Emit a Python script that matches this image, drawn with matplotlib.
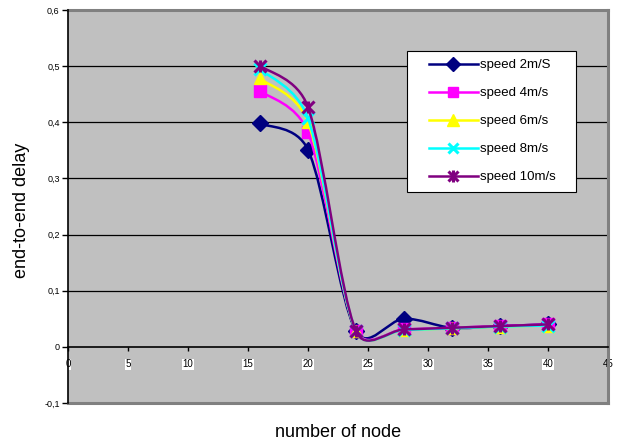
import numpy as np
import matplotlib
matplotlib.use("Agg")
import matplotlib.pyplot as plt
from matplotlib.path import Path
from matplotlib.patches import PathPatch, Rectangle
from matplotlib.lines import Line2D
from matplotlib.legend_handler import HandlerTuple

plt.rcParams['font.family'] = ['Liberation Sans', 'DejaVu Sans']

nodes = [16, 20, 24, 28, 32, 36, 40]
speed_2 = [0.398, 0.351, 0.028, 0.050, 0.034, 0.037, 0.040]
speed_4 = [0.456, 0.382, 0.029, 0.031, 0.034, 0.037, 0.040]
speed_6 = [0.478, 0.400, 0.028, 0.030, 0.033, 0.036, 0.038]
speed_8 = [0.495, 0.407, 0.028, 0.030, 0.033, 0.036, 0.038]
speed_10 = [0.501, 0.427, 0.028, 0.031, 0.034, 0.037, 0.040]

labels = ['speed 2m/S', 'speed 4m/s', 'speed 6m/s', 'speed 8m/s', 'speed 10m/s']
x_ticks = [0, 5, 10, 15, 20, 25, 30, 35, 40, 45]
y_ticks = [-0.1, 0, 0.1, 0.2, 0.3, 0.4, 0.5, 0.6]
y_tick_labels = ['-0,1', '0', '0,1', '0,2', '0,3', '0,4', '0,5', '0,6']

W, H = 621, 444
XLIM, YLIM = (0, 45), (-0.1, 0.6)
AX_W, AX_H = 540, 393  # plot area size in pixels


def smooth_path(xs, ys):
    """Smoothed-line Bezier path; tangents are clamped to half a segment
    (computed in screen units so both axes weigh the same)."""
    sx = AX_W / (XLIM[1] - XLIM[0])
    sy = AX_H / (YLIM[1] - YLIM[0])
    pts = np.column_stack([np.asarray(xs) * sx, np.asarray(ys) * sy])
    n = len(pts)
    f = 1.0 / 6.0
    verts = [pts[0]]
    codes = [Path.MOVETO]
    for i in range(n - 1):
        p0 = pts[i - 1] if i > 0 else pts[i]
        p1 = pts[i]
        p2 = pts[i + 1]
        p3 = pts[i + 2] if i + 2 < n else pts[i + 1]
        d02 = np.hypot(*(p2 - p0))
        d12 = np.hypot(*(p2 - p1))
        d13 = np.hypot(*(p3 - p1))
        f1 = f if d02 * f < d12 / 2 else d12 / (2 * d02)
        f2 = f if d13 * f < d12 / 2 else d12 / (2 * d13)
        c1 = p1 + (p2 - p0) * f1
        c2 = p2 - (p3 - p1) * f2
        verts += [c1, c2, p2]
        codes += [Path.CURVE4] * 3
    verts = np.array(verts) / np.array([sx, sy])
    return Path(verts, codes)


fig = plt.figure(figsize=(W / 100, H / 100), dpi=100)
ax = fig.add_axes([68 / W, 1 - 403 / H, AX_W / W, AX_H / H])
ax.set_facecolor('#C0C0C0')
ax.set_xlim(*XLIM)
ax.set_ylim(*YLIM)

# horizontal grid
for v in [0.1, 0.2, 0.3, 0.4, 0.5]:
    ax.axhline(v, color='black', lw=0.9, zorder=1)

series = [
    (speed_2, '#000080', dict(marker='D', ms=8)),
    (speed_4, '#FF00FF', dict(marker='s', ms=8)),
    (speed_6, '#FFFF00', dict(marker='^', ms=9)),
    (speed_8, '#00FFFF', dict(marker='x', ms=8, mew=2.2)),
    (speed_10, '#800080', dict(marker='x', ms=8, mew=2.2)),
]

handles = []
for k, (vals, col, mk) in enumerate(series):
    z = 3 + k
    ax.add_patch(PathPatch(smooth_path(nodes, vals), fill=False,
                           edgecolor=col, lw=1.8, zorder=z))
    ax.plot(nodes, vals, ls='none', color=col, zorder=z + 0.5, **mk)
    h = Line2D([], [], color=col, lw=1.8, **mk)
    if k == 4:
        ax.plot(nodes, vals, ls='none', color=col, marker='|', ms=9,
                mew=2.2, zorder=z + 0.5)
        h = (h, Line2D([], [], ls='none', color=col, marker='|', ms=9, mew=2.2))
    handles.append(h)

# legend box
fig.patches.append(Rectangle((407 / W, 1 - 192 / H), 169 / W, 141 / H,
                             transform=fig.transFigure, facecolor='white',
                             edgecolor='black', lw=0.8, zorder=19))
leg = fig.legend(handles, labels, loc='upper left',
                 bbox_to_anchor=(425 / W, 1 - 55 / H), fontsize=9.5,
                 handlelength=3.7, handletextpad=0.15, labelspacing=1.2,
                 borderpad=0.3, borderaxespad=0, frameon=False,
                 markerscale=0.9,
                 handler_map={tuple: HandlerTuple(ndivide=1)})
leg.set_zorder(20)

# axes: y axis at left, x axis crossing at 0
for s in ['top', 'right']:
    ax.spines[s].set_visible(False)
ax.spines['left'].set_color('black')
ax.spines['left'].set_linewidth(1.2)
ax.spines['bottom'].set_position(('data', 0))
ax.spines['bottom'].set_color('black')
ax.spines['bottom'].set_linewidth(1.2)
ax.spines['bottom'].set_zorder(2)

# gray plot-area border on top, right and bottom
border = dict(color='#808080', lw=2.2, transform=ax.transAxes, clip_on=False, zorder=2)
ax.plot([0, 1], [1, 1], **border)
ax.plot([1, 1], [0, 1], **border)
ax.plot([0, 1], [0, 0], **border)

ax.set_xticks(x_ticks)
ax.set_xticklabels([str(t) for t in x_ticks])
ax.set_yticks(y_ticks)
ax.set_yticklabels(y_tick_labels)
ax.tick_params(axis='x', direction='out', length=3, width=1, pad=6,
               labelsize=7, color='black')
ax.tick_params(axis='y', direction='out', length=4, width=1, pad=2,
               labelsize=6.5, color='black')
for t in ax.get_xticklabels():
    if t.get_text() != '45':
        t.set_bbox(dict(facecolor='white', edgecolor='none', pad=0.5))

fig.text(338 / W, 1 - 432 / H, 'number of node', ha='center', va='center',
         fontsize=13)
fig.text(22 / W, 1 - 210 / H, 'end-to-end delay', ha='center', va='center',
         rotation=90, fontsize=13)

fig.savefig('out.png', dpi=100, facecolor='white')
